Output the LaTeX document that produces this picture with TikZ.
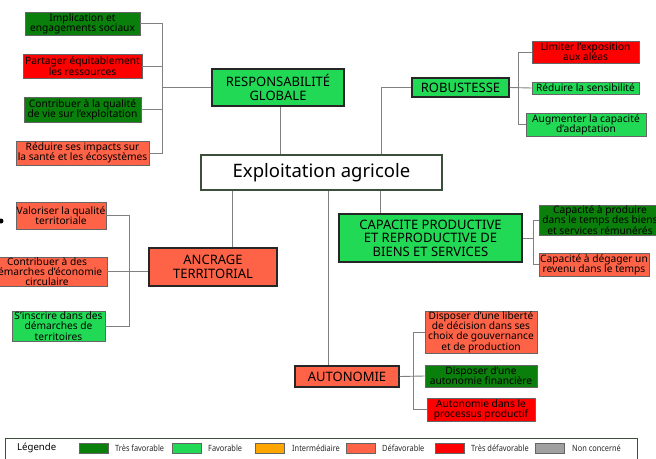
\documentclass[tikz,border=0pt]{standalone}
\usepackage{fontspec}
\setmainfont{Noto Sans}
\newfontfamily\legfont[FakeStretch=0.86]{Noto Sans}
\definecolor{dkgreen}{HTML}{0B7F0B}
\definecolor{ltgreen}{HTML}{22D955}
\definecolor{tomato}{HTML}{FF6347}
\definecolor{vred}{HTML}{FF0000}
\definecolor{orng}{HTML}{FFA500}
\definecolor{ngray}{HTML}{A0A0A0}
\definecolor{bordgreen}{HTML}{3B4F3B}
\begin{document}
\begin{tikzpicture}[x=1pt,y=-1pt,
  item/.style={draw=black!60, line width=0.8pt, inner sep=0pt, align=center,
    font=\fontsize{10.2}{10.3}\selectfont, text=black},
  mainbox/.style={draw=black!85, line width=1.3pt, inner sep=0pt, align=center,
    font=\fontsize{13}{13.6}\selectfont},
  conn/.style={draw=black!50, line width=0.9pt},
  swatch/.style={draw=black!60, line width=0.6pt, minimum width=29pt, minimum height=10pt, inner sep=0pt},
  leglab/.style={anchor=west, inner sep=0pt, font=\legfont\fontsize{8.6}{9}\selectfont, text=black!85}
]
\useasboundingbox (0,0) rectangle (656,458);
\clip (0,0) rectangle (656,458);

% central
\node[draw=bordgreen, line width=1.3pt, fill=white, minimum width=241pt, minimum height=35pt, inner sep=0pt,
  font=\fontsize{18.5}{19}\selectfont] (ctr) at (321.5,172.5) {Exploitation agricole};

% main nodes
\node[mainbox, fill=ltgreen, minimum width=132pt, minimum height=37pt] (resp) at (278,87.5) {RESPONSABILITÉ\\GLOBALE};
\node[mainbox, fill=ltgreen, minimum width=97pt, minimum height=19pt] (rob) at (460.5,87.5) {ROBUSTESSE};
\node[mainbox, fill=tomato, minimum width=128pt, minimum height=38pt] (anc) at (213,267) {ANCRAGE\\TERRITORIAL};
\node[mainbox, fill=ltgreen, minimum width=183pt, minimum height=48pt] (cap) at (430.5,238) {CAPACITE PRODUCTIVE\\ET REPRODUCTIVE DE\\BIENS ET SERVICES};
\node[mainbox, fill=tomato, minimum width=104pt, minimum height=21pt] (aut) at (347,376.5) {AUTONOMIE};

% responsabilite items
\node[item, fill=dkgreen, minimum width=115pt, minimum height=23pt] (r1) at (82.5,23.5) {Implication et\\engagements sociaux};
\node[item, fill=vred, minimum width=119pt, minimum height=24pt] (r2) at (82.5,66) {Partager équitablement\\les ressources};
\node[item, fill=dkgreen, minimum width=117pt, minimum height=25pt] (r3) at (82.5,109.5) {Contribuer à la qualité\\de vie sur l'exploitation};
\node[item, fill=tomato, minimum width=133pt, minimum height=24pt] (r4) at (82.5,153) {Réduire ses impacts sur\\la santé et les écosystèmes};

% robustesse items
\node[item, fill=vred, minimum width=107pt, minimum height=22pt] (b1) at (585.5,52) {Limiter l'exposition\\aux aléas};
\node[item, fill=ltgreen, minimum width=107pt, minimum height=12pt] (b2) at (585.5,88) {Réduire la sensibilité};
\node[item, fill=ltgreen, minimum width=120pt, minimum height=23pt] (b3) at (586,124.5) {Augmenter la capacité\\d'adaptation};

% ancrage items
\node[item, fill=tomato, minimum width=90pt, minimum height=27pt] (a1) at (61,215.5) {Valoriser la qualité\\territoriale};
\node[item, fill=tomato, minimum width=120pt, minimum height=29pt] (a2) at (47,271.5) {Contribuer à des\\démarches d'économie\\circulaire};
\node[item, fill=ltgreen, minimum width=93pt, minimum height=30pt] (a3) at (58.5,326) {S'inscrire dans des\\démarches de\\territoires};

% capacite items
\node[item, fill=dkgreen, minimum width=122pt, minimum height=30pt] (c1) at (600,220) {Capacité à produire\\dans le temps des biens\\et services rémunérés};
\node[item, fill=tomato, minimum width=110pt, minimum height=23pt] (c2) at (594,264.5) {Capacité à dégager un\\revenu dans le temps};

% autonomie items
\node[item, fill=tomato, minimum width=112pt, minimum height=42pt] (u1) at (481,332) {Disposer d'une liberté\\de décision dans ses\\choix de gouvernance\\et de production};
\node[item, fill=dkgreen, minimum width=112pt, minimum height=22pt] (u2) at (481,376) {Disposer d'une\\autonomie financière};
\node[item, fill=vred, minimum width=108pt, minimum height=23pt] (u3) at (481,409.5) {Autonomie dans le\\processus productif};

% connectors: responsabilite
\coordinate (tr) at (162,0);
\draw[conn] (r1.east) -- (r1.east -| tr) -- (r4.east -| tr) -- (r4.east);
\draw[conn] (r2.east) -- (r2.east -| tr);
\draw[conn] (r3.east) -- (r3.east -| tr);
\draw[conn] (resp.west) -- (resp.west -| tr);
% robustesse
\coordinate (tb) at (518,0);
\draw[conn] (b1.west) -- (b1.west -| tb) -- (b3.west -| tb) -- (b3.west);
\draw[conn] (rob.east) -- (b2.west);
% ancrage
\coordinate (ta) at (129,0);
\draw[conn] (a1.east) -- (a1.east -| ta) -- (a3.east -| ta) -- (a3.east);
\draw[conn] (a2.east) -- (anc.west |- a2.east);
% capacite
\coordinate (tc) at (533,0);
\draw[conn] (c1.west) -- (c1.west -| tc) -- (c2.west -| tc) -- (c2.west);
\draw[conn] (cap.east) -- (cap.east -| tc);
% autonomie
\coordinate (tu) at (413,0);
\draw[conn] (u1.west) -- (u1.west -| tu) -- (u3.west -| tu) -- (u3.west);
\draw[conn] (aut.east) -- (u2.west);
% central
\coordinate (x1) at (280,0);
\coordinate (x2) at (381,0);
\coordinate (x3) at (232,0);
\coordinate (x4) at (328,0);
\coordinate (x5) at (380,0);
\draw[conn] (x1 |- ctr.north) -- (x1 |- resp.south);
\draw[conn] (x2 |- ctr.north) |- (rob.west);
\draw[conn] (x3 |- ctr.south) -- (x3 |- anc.north);
\draw[conn] (x4 |- ctr.south) -- (x4 |- aut.north);
\draw[conn] (x5 |- ctr.south) -- (x5 |- cap.north);

% stray dot
\node[circle, fill=black, inner sep=0pt, minimum size=5pt] (dot) at (1,221) {};

% legend
\node[draw=bordgreen, line width=1pt, fill=white, anchor=north west, minimum width=632pt, minimum height=34pt, inner sep=0pt] (leg) at (5,438) {};
\node[anchor=west, inner sep=0pt, font=\bfseries\fontsize{9.6}{10}\selectfont] (lt) at (17,448) {Légende};
\node[swatch, fill=dkgreen] (s1) at (93.5,448) {};
\node[leglab] (l1) at (115,448) {Très favorable};
\node[swatch, fill=ltgreen] (s2) at (187,448) {};
\node[leglab] (l2) at (208,448) {Favorable};
\node[swatch, fill=orng] (s3) at (270,448) {};
\node[leglab] (l3) at (292,448) {Intermédiaire};
\node[swatch, fill=tomato] (s4) at (360.5,448) {};
\node[leglab] (l4) at (382,448) {Défavorable};
\node[swatch, fill=vred] (s5) at (449.5,448) {};
\node[leglab] (l5) at (471,448) {Très défavorable};
\node[swatch, fill=ngray] (s6) at (550,448) {};
\node[leglab] (l6) at (572,448) {Non concerné};
\end{tikzpicture}
\end{document}
